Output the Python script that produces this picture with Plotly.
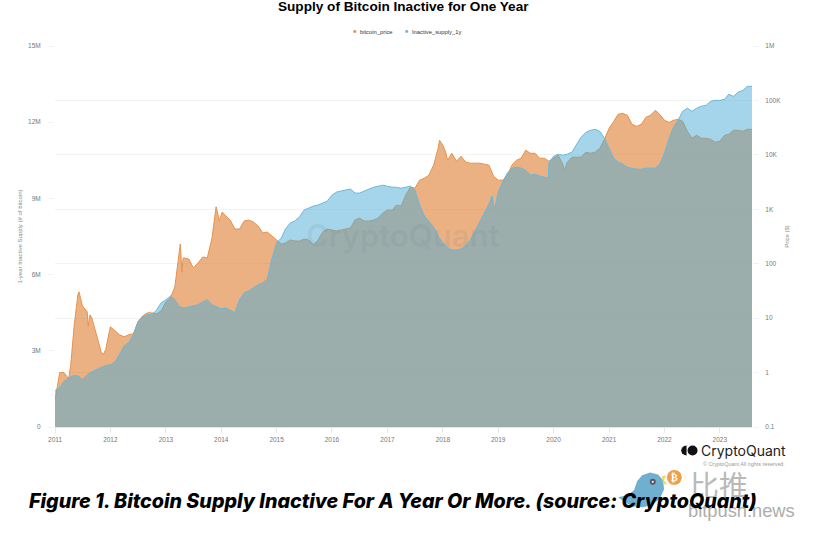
import pandas as pd
import plotly.graph_objects as go

# monthly samples, 2011-01 to 2023-08
bitcoin_price = [
    0.306, 1.0, 1.0, 0.774, 4.95, 26.8, 16.8, 13.1, 10.1, 4.95, 2.42, 2.63,
    6.94, 5.86, 4.95, 4.55, 4.95, 5.17, 8.57, 11.0, 12.5, 12.5, 12.0, 13.6,
    19.9, 23.6, 37.5, 179, 128, 122, 83.7, 103, 133, 128, 297, 1050,
    817, 751, 634, 434, 434, 608, 634, 583, 492, 366, 382, 323,
    273, 230, 240, 273, 261, 261, 284, 273, 221, 273, 382, 434,
    416, 399, 416, 434, 453, 634, 690, 608, 608, 634, 690, 852,
    967, 967, 1190, 1150, 1820, 2550, 2450, 3430, 3730, 4240, 6460, 13200,
    15000, 7980, 10700, 7650, 9440, 7330, 7030, 7030, 7030, 6740, 6460, 4060,
    3430, 3430, 4060, 6460, 7980, 8680, 12200, 10700, 10700, 8680, 8680, 7650,
    8680, 9850, 6740, 7330, 9050, 9050, 9050, 11200, 10700, 11200, 13200, 19300,
    30800, 41300, 55500, 58000, 53300, 36400, 33500, 36400, 49000, 53300, 65800, 55500,
    43100, 39600, 43100, 45000, 41300, 27100, 20200, 22900, 20200, 20200, 19300, 17100,
    17800, 22900, 23900, 28300, 28300, 27100, 29500, 29500,
]
inactive_supply_1y = [
    1.43, 1.55, 1.79, 1.94, 2.02, 2.02, 1.87, 2.06, 2.18, 2.26, 2.34, 2.42,
    2.45, 2.57, 2.85, 3.20, 3.32, 3.63, 4.14, 4.34, 4.42, 4.42, 4.61, 4.89,
    5.01, 5.16, 5.01, 4.73, 4.69, 4.73, 4.77, 4.81, 4.93, 5.01, 4.81, 4.73,
    4.65, 4.69, 4.61, 4.50, 5.01, 5.28, 5.36, 5.48, 5.60, 5.67, 5.83, 6.62,
    7.25, 7.44, 7.80, 8.03, 8.11, 8.27, 8.54, 8.62, 8.70, 8.74, 8.82, 8.89,
    9.13, 9.25, 9.29, 9.33, 9.37, 9.21, 9.21, 9.29, 9.37, 9.44, 9.48, 9.52,
    9.48, 9.44, 9.44, 9.40, 9.44, 9.48, 9.33, 8.74, 8.31, 8.07, 7.87, 7.52,
    7.25, 7.05, 6.97, 6.97, 7.01, 7.13, 7.36, 7.72, 8.07, 8.38, 8.78, 8.74,
    9.25, 9.68, 9.99, 10.19, 10.23, 10.19, 10.11, 9.92, 9.95, 9.88, 9.84, 10.39,
    10.66, 10.74, 10.70, 10.74, 10.82, 11.13, 11.41, 11.60, 11.68, 11.72, 11.64, 11.37,
    10.94, 10.58, 10.43, 10.35, 10.23, 10.19, 10.15, 10.15, 10.19, 10.19, 10.19, 10.35,
    10.78, 11.37, 11.80, 12.08, 12.43, 12.55, 12.43, 12.55, 12.63, 12.66, 12.82, 12.86,
    12.86, 12.90, 13.10, 13.02, 13.18, 13.25, 13.41, 13.41,
]
months = pd.date_range("2011-01-01", periods=len(bitcoin_price), freq="MS")

# spikes and notches that fall between the monthly samples
price_extra_dates = ["2011-04-15", "2011-05-08", "2011-06-08", "2011-08-08", "2011-08-20", "2011-11-14",
                     "2013-04-06", "2013-04-17", "2013-04-25", "2013-11-28", "2013-12-19", "2014-01-07",
                     "2017-12-10", "2018-01-19", "2020-03-12"]
price_extra = [1.4, 7.55, 30.4, 7.24, 11.5, 2.13, 230, 70.7, 128, 1110, 616, 889, 18500, 11300, 5230]
supply_extra_dates = ["2018-11-22", "2018-12-10", "2019-11-28"]
supply_extra = [9.09, 8.62, 9.80]

price_s = pd.concat([pd.Series(bitcoin_price, index=months),
                     pd.Series(price_extra, index=pd.to_datetime(price_extra_dates))]).sort_index()
supply_s = pd.concat([pd.Series(inactive_supply_1y, index=months),
                      pd.Series(supply_extra, index=pd.to_datetime(supply_extra_dates))]).sort_index() * 1e6

year_ticks = [f"{y}-01-01" for y in range(2011, 2024)]
price_ticks = [0.1, 1, 10, 100, 1000, 10000, 100000, 1000000]
price_labels = ["0.1", "1", "10", "100", "1K", "10K", "100K", "1M"]
supply_ticks = [0, 3e6, 6e6, 9e6, 12e6, 15e6]
supply_labels = ["0", "3M", "6M", "9M", "12M", "15M"]

W, H = 815, 538
L, R, T, B = 54.5, 752.0, 45.5, 427.5


def px(x):
    return (x - L) / (R - L)


def py(y):
    return (B - y) / (B - T)


def circle(cx, cy, r, color):
    return dict(type="circle", xref="paper", yref="paper", x0=px(cx - r), x1=px(cx + r),
                y0=py(cy + r), y1=py(cy - r), fillcolor=color, line_width=0)


def path(points, color):
    d = "M " + " L ".join(f"{px(a):.5f},{py(b):.5f}" for a, b in points) + " Z"
    return dict(type="path", xref="paper", yref="paper", path=d, fillcolor=color, line_width=0)


def label(x, y, text, size, color="#000", anchor="center", family="Liberation Sans", **kw):
    return dict(xref="paper", yref="paper", x=px(x), y=py(y), text=text, showarrow=False,
                xanchor=anchor, yanchor="middle", font=dict(size=size, color=color, family=family, **kw))


fig = go.Figure()
fig.add_trace(go.Scatter(x=price_s.index, y=price_s.values, name="bitcoin_price", mode="lines", yaxis="y",
                         line=dict(color="#e6924c", width=1), fill="tozeroy",
                         fillcolor="rgba(222,125,48,0.6)"))
fig.add_trace(go.Scatter(x=supply_s.index, y=supply_s.values, name="Inactive_supply_1y", mode="lines", yaxis="y2",
                         line=dict(color="#6cb8d8", width=1), fill="tozeroy",
                         fillcolor="rgba(75,171,213,0.5)"))

shapes = [
    # legend dots
    circle(354.5, 31, 1.5, "#e6924c"),
    circle(406.5, 31, 1.5, "#6cb8d8"),
    # CryptoQuant logo
    path([(686.5, 446), (684, 446.6), (682, 448.3), (681, 451), (682, 453.7), (684, 455.4), (686.5, 456)], "#111"),
    circle(692.5, 451, 5, "#111"),
    # bitpush bird
    path([(618, 498), (627, 496), (634, 491), (637, 482), (642, 476), (650, 473), (658, 475),
          (663, 481), (664, 490), (660, 499), (652, 506), (642, 508), (632, 507), (625, 503)], "#6fb0d0"),
    path([(662, 477), (666, 476), (664, 481), (667, 485), (663, 485)], "#f2d65a"),
    circle(652.7, 482.5, 3, "#5c5560"),
    circle(652.7, 482.5, 1.2, "#ddd"),
    circle(674.3, 478, 7.5, "#eda048"),
]

annotations = [
    label(403.5, 6, "<b>Supply of Bitcoin Inactive for One Year</b>", 13.6),
    label(357.5, 31, "bitcoin_price", 5.8, "#333", "left"),
    label(410, 31, "Inactive_supply_1y", 5.8, "#333", "left"),
    label(402, 235, "CryptoQuant", 31, "rgba(110,125,125,0.13)", family="Inter", weight=600),
    label(743.5, 451.5, "CryptoQuant", 14, "#222", family="Inter"),
    label(744, 465, "© CryptoQuant All rights reserved.", 5.4, "#999"),
    label(674.3, 478, "₿", 10, "#fff", family="DejaVu Sans", weight="bold"),
    label(718.5, 485, "比推", 29, "#b9b9b9", family="Noto Sans CJK SC"),
    label(741, 511.5, "bitpush.news", 18.3, "#adadad"),
    label(392.5, 502, "Figure 1. Bitcoin Supply Inactive For A Year Or More. (source: CryptoQuant)",
          19.7, "#000", family="Inter", weight=800, style="italic"),
]

tick_font = dict(size=6.5, color="#777", family="Liberation Sans")
title_font = dict(size=6, color="#888", family="Liberation Sans")
fig.update_layout(
    width=W, height=H, autosize=False, showlegend=False,
    paper_bgcolor="white", plot_bgcolor="white",
    margin=dict(l=L, r=W - R, t=T, b=H - B, pad=0),
    xaxis=dict(type="date", range=["2011-01-01", "2023-08-01"], tickvals=year_ticks, tickformat="%Y",
               tickfont=tick_font, showgrid=False, ticks="outside", ticklen=5, tickcolor="#e8e8e8",
               ticklabelstandoff=1, showline=True, linecolor="#e4e4e4", linewidth=1, zeroline=False),
    yaxis=dict(type="log", side="right", range=[-1, 6], tickvals=price_ticks, ticktext=price_labels,
               tickfont=tick_font, showgrid=True, gridcolor="#f3f3f3", gridwidth=1, zeroline=False,
               ticks="outside", ticklen=6, tickcolor="#f3f3f3", ticklabelstandoff=5,
               title=dict(text="Price ($)", font=title_font, standoff=4)),
    yaxis2=dict(overlaying="y", side="left", range=[0, 15e6], tickvals=supply_ticks, ticktext=supply_labels,
                tickfont=tick_font, showgrid=False, zeroline=False, ticks="outside", ticklen=6,
                tickcolor="#f3f3f3", ticklabelstandoff=6,
                title=dict(text="1-year Inactive Supply (# of bitcoin)", font=title_font, standoff=4)),
    shapes=shapes, annotations=annotations,
)

fig.write_html("out.html", config={"displayModeBar": False},
               post_script="document.body.style.margin='0';")
